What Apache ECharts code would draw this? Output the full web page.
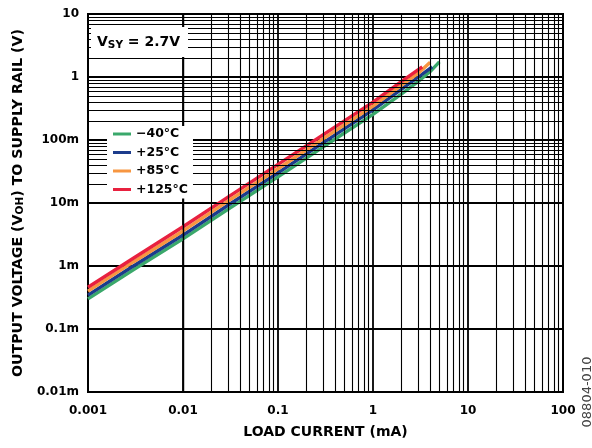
<!DOCTYPE html>
<html>
<head>
<meta charset="utf-8">
<script src="https://cdn.jsdelivr.net/npm/echarts@6/dist/echarts.min.js"></script>
<style>
  html, body { margin: 0; padding: 0; background: #fff; }
  #chart { width: 592px; height: 448px; }
</style>
</head>
<body>
<div id="chart"></div>
<script>
// Axis tick labels, one per decade
const xTickLabels = ['0.001', '0.01', '0.1', '1', '10', '100'];
const yTickLabels = ['0.01m', '0.1m', '1m', '10m', '100m', '1', '10'];

// Series names (temperature)
const seriesNames = ['\u221240\u00b0C', '+25\u00b0C', '+85\u00b0C', '+125\u00b0C'];
const seriesColors = ['#3aa86b', '#1c3c8c', '#f79641', '#e8213f'];

// Load current (mA) and output voltage to rail (V) for each temperature
const currentM40 = [0.001, 0.003, 0.01, 0.03, 0.1, 0.3, 1, 2, 3, 4, 5];
const voltM40    = [0.00030, 0.00087, 0.0027, 0.0080, 0.026, 0.078, 0.255, 0.54, 0.85, 1.22, 1.74];

const current25 = [0.001, 0.003, 0.01, 0.03, 0.1, 0.3, 1, 2, 3, 4.2];
const volt25    = [0.000345, 0.0010, 0.0031, 0.0093, 0.030, 0.091, 0.30, 0.64, 1.0, 1.45];

const current85 = [0.001, 0.003, 0.01, 0.03, 0.1, 0.3, 1, 2, 3, 4];
const volt85    = [0.00040, 0.00116, 0.0036, 0.0108, 0.035, 0.105, 0.345, 0.74, 1.15, 1.72];

const current125 = [0.001, 0.003, 0.01, 0.03, 0.1, 0.3, 1, 2, 3.3];
const volt125    = [0.00046, 0.00133, 0.0042, 0.0125, 0.041, 0.122, 0.40, 0.85, 1.45];

const FONT = 'DejaVu Sans';

function pairs(xs, ys) { return xs.map((x, i) => [x, ys[i]]); }

// Minor grid values 2..9 within each decade
function minorValues(loExp, hiExp) {
  const out = [];
  for (let e = loExp; e < hiExp; e++) {
    for (let m = 2; m <= 9; m++) out.push(m * Math.pow(10, e));
  }
  return out;
}

const xMinor = minorValues(-3, 2).map(v => ({ xAxis: v }));
const yMinor = minorValues(-5, 1).map(v => ({ yAxis: v }));

const dataSets = [
  pairs(currentM40, voltM40),
  pairs(current25, volt25),
  pairs(current85, volt85),
  pairs(current125, volt125)
];

const lineSeries = seriesNames.map((name, i) => ({
  name: name,
  type: 'line',
  data: dataSets[i],
  showSymbol: false,
  symbol: 'none',
  smooth: false,
  z: 3,
  color: seriesColors[i],
  lineStyle: { width: 3.4, color: seriesColors[i] },
  itemStyle: { color: seriesColors[i] },
  animation: false
}));

const chart = echarts.init(document.getElementById('chart'), null, { renderer: 'canvas' });

chart.setOption({
  animation: false,
  backgroundColor: '#fff',
  grid: {
    left: 88, right: 29, top: 14, bottom: 56,
    show: true, borderColor: '#000', borderWidth: 2,
    backgroundColor: 'transparent'
  },
  xAxis: {
    type: 'log', logBase: 10, min: 0.001, max: 100, splitNumber: 5,
    axisLine: { show: false },
    axisTick: { show: false },
    splitLine: { show: true, lineStyle: { color: '#000', width: 1.8 } },
    axisLabel: {
      formatter: v => xTickLabels[Math.round(Math.log10(v)) + 3],
      color: '#000', fontFamily: FONT, fontWeight: 'bold', fontSize: 12, margin: 13
    },
    name: 'LOAD CURRENT (mA)',
    nameLocation: 'middle',
    nameGap: 33,
    nameTextStyle: { color: '#000', fontFamily: FONT, fontWeight: 'bold', fontSize: 14 }
  },
  yAxis: {
    type: 'log', logBase: 10, min: 0.00001, max: 10, splitNumber: 6,
    axisLine: { show: false },
    axisTick: { show: false },
    splitLine: { show: true, lineStyle: { color: '#000', width: 1.8 } },
    axisLabel: {
      formatter: v => yTickLabels[Math.round(Math.log10(v)) + 5],
      color: '#000', fontFamily: FONT, fontWeight: 'bold', fontSize: 12, margin: 9
    },
    name: '{m|OUTPUT VOLTAGE (V}{s|OH}{m|) TO SUPPLY RAIL (V)}',
    nameLocation: 'middle',
    nameRotate: 90,
    nameGap: 62,
    nameTextStyle: {
      color: '#000', fontFamily: FONT, fontWeight: 'bold', fontSize: 14.2,
      rich: {
        m: { color: '#000', fontFamily: FONT, fontWeight: 'bold', fontSize: 14.2, lineHeight: 16 },
        s: { color: '#000', fontFamily: FONT, fontWeight: 'bold', fontSize: 10.5, lineHeight: 16, verticalAlign: 'bottom', padding: [6, 0, 0, 0] }
      }
    }
  },
  legend: {
    data: seriesNames,
    orient: 'vertical',
    left: 107, top: 126,
    padding: [1, 5, 2, 6],
    backgroundColor: '#fff',
    icon: 'rect',
    itemWidth: 18, itemHeight: 3,
    itemGap: 4.5,
    z: 20,
    textStyle: { color: '#000', fontFamily: FONT, fontWeight: 'bold', fontSize: 12.5, lineHeight: 14 }
  },
  graphic: [
    { type: 'rect', z: 10, shape: { x: 91, y: 27, width: 97, height: 30 }, style: { fill: '#fff' } },
    {
      type: 'text', z: 11, x: 97, y: 42,
      style: {
        text: '{m|V}{s|SY}{m| = 2.7V}',
        verticalAlign: 'middle',
        rich: {
          m: { fill: '#000', fontFamily: FONT, fontWeight: 'bold', fontSize: 14, lineHeight: 18 },
          s: { fill: '#000', fontFamily: FONT, fontWeight: 'bold', fontSize: 10.5, lineHeight: 18, verticalAlign: 'bottom', padding: [6, 0, 0, 0] }
        }
      }
    },
    {
      type: 'text', z: 11, x: 588, y: 392, rotation: Math.PI / 2,
      style: { text: '08804-010', fill: '#444', font: '13px "DejaVu Sans"', align: 'center', verticalAlign: 'middle' }
    }
  ],
  series: [
    {
      name: 'grid-minor',
      type: 'line',
      data: [],
      z: 2,
      silent: true,
      animation: false,
      markLine: {
        silent: true,
        symbol: ['none', 'none'],
        label: { show: false },
        emphasis: { disabled: true },
        animation: false,
        lineStyle: { type: 'solid', color: '#000', width: 1.1 },
        data: xMinor.concat(yMinor)
      }
    }
  ].concat(lineSeries)
});
</script>
</body>
</html>
